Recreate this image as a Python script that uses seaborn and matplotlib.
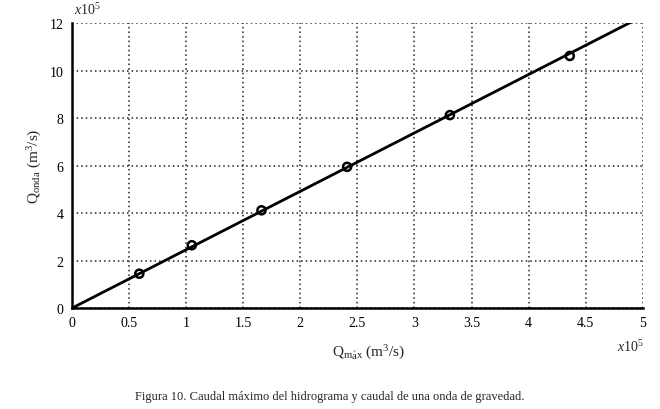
import matplotlib
matplotlib.use("Agg")
import matplotlib.pyplot as plt
import seaborn as sns
import numpy as np
import pandas as pd

# Data (units of 1e5 m^3/s)
q_max = [0.59, 1.05, 1.66, 2.41, 3.31, 4.36]
q_onda = [1.45, 2.65, 4.12, 5.95, 8.13, 10.62]
fit_x = [0.0, 5.0]
fit_y = [0.0, 12.3]
x_ticks = [0, 0.5, 1, 1.5, 2, 2.5, 3, 3.5, 4, 4.5, 5]
x_tick_labels = ["0", "0.5", "1", "1.5", "2", "2.5", "3", "3.5", "4", "4.5", "5"]
y_ticks = [0, 2, 4, 6, 8, 10, 12]

sns.set_style("white")
plt.rcParams['font.family'] = ['Liberation Serif', 'DejaVu Serif']
plt.rcParams['mathtext.fontset'] = 'custom'
plt.rcParams['mathtext.rm'] = 'Liberation Serif'
plt.rcParams['mathtext.it'] = 'Liberation Serif:italic'

fig = plt.figure(figsize=(6.6, 4.1), dpi=100)
ax = fig.add_axes([0.109, 0.246, 0.865, 0.695])

df_pts = pd.DataFrame({"x": q_max, "y": q_onda})
df_fit = pd.DataFrame({"x": fit_x, "y": fit_y})
sns.lineplot(data=df_fit, x="x", y="y", ax=ax, color="black", linewidth=2, zorder=3)
sns.scatterplot(data=df_pts, x="x", y="y", ax=ax, marker="o", s=34,
                facecolor="none", edgecolor="black", linewidth=1.8, zorder=4)

ax.set_xlim(0, 5)
ax.set_ylim(0, 12)
ax.set_xticks(x_ticks)
ax.set_xticklabels(x_tick_labels)
ax.set_yticks(y_ticks)
ax.grid(True, linestyle=(0, (1, 2)), color="#222222", linewidth=1.1)
for s in ["top", "right"]:
    ax.spines[s].set_visible(False)
for s in ["left", "bottom"]:
    ax.spines[s].set_color("black")
    ax.spines[s].set_linewidth(1.8)
ax.tick_params(direction="in", length=4, width=1.8, labelsize=10, colors="black", pad=6)
ax.set_xlabel(r"Q$_{\mathrm{m\acute{a}x}}$ (m$^3$/s)", fontsize=11, labelpad=6)
ax.set_ylabel(r"Q$_{\mathrm{onda}}$ (m$^3$/s)", fontsize=11, labelpad=4)
ax.xaxis.set_label_coords(0.52, -0.12)

fig.text(0.112, 0.955, r"$\it{x}$10$^5$", fontsize=10, ha="left", va="bottom")
fig.text(0.975, 0.135, r"$\it{x}$10$^5$", fontsize=10, ha="right", va="bottom")
fig.text(0.5, 0.018, "Figura 10. Caudal máximo del hidrograma y caudal de una onda de gravedad.",
         fontsize=9, ha="center", va="bottom")

fig.savefig("out.png", dpi=100)
